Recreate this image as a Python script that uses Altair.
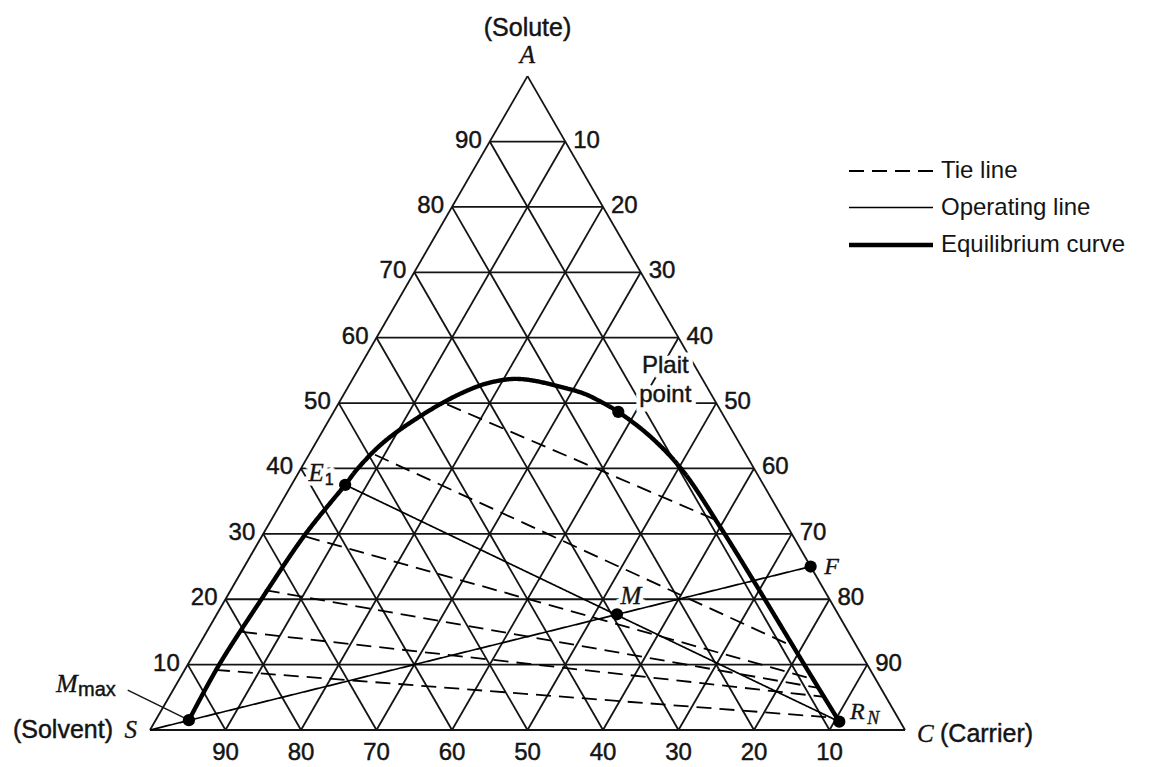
import math
import altair as alt
import pandas as pd

SQ = math.sqrt(3) / 2
SANS = "Liberation Sans"
SERIF = "Liberation Serif"
INK = "#141414"

# Compositions in mass %: A = solute, C = carrier, S = solvent = 100 - A - C

# Equilibrium (binodal) curve, solvent-rich end -> carrier-rich end
eq_A = [1.5, 9.95, 19.9, 29.9, 37.5, 40.1, 44.4, 50.1, 52.7, 53.45, 53.7, 53.45,
        52.23, 51.39, 50.02, 48.65, 44.9, 39.8, 31.1, 22.97, 20.0, 10.0, 1.27]
eq_C = [4.4, 4.17, 4.75, 5.6, 7.1, 7.55, 9.15, 13.8, 17.4, 19.6, 21.5, 24.0,
        29.11, 31.92, 34.99, 37.7, 43.8, 50.56, 59.95, 68.38, 71.43, 81.66, 90.66]

# Tie lines: extract end (left branch) -> raffinate end (right branch)
tie_ext_A = [49.8, 42.1, 29.6, 21.4, 15.0, 9.2]
tie_ext_C = [14.45, 8.75, 5.75, 4.5, 4.7, 4.0]
tie_raf_A = [32.2, 12.6, 7.7, 6.4, 5.05, 1.85]
tie_raf_C = [58.7, 79.2, 84.2, 85.5, 86.95, 90.05]

# Named compositions (A, C)
point_names = ["S", "Mmax", "E1", "Plait", "M", "F", "RN"]
point_A = [0.0, 1.5, 37.5, 48.65, 17.7, 25.0, 1.27]
point_C = [0.0, 4.4, 7.1, 37.7, 53.0, 75.0, 90.66]

# Operating lines between named compositions
op_from = ["S", "E1"]
op_to = ["F", "RN"]

grid_levels = [10, 20, 30, 40, 50, 60, 70, 80, 90]
solute_ticks = [10, 20, 30, 40, 50, 60, 70, 80, 90]
carrier_ticks = [10, 20, 30, 40, 50, 60, 70, 80, 90]
solvent_ticks = [90, 80, 70, 60, 50, 40, 30, 20, 10]

legend_kinds = ["Tie line", "Operating line", "Equilibrium curve"]

# Start of the leader line drawn to M_max (composition space, outside the triangle)
mmax_leader = (6.1, -6.0)

comp = {n: (a, c) for n, a, c in zip(point_names, point_A, point_C)}


def to_xy(a, c):
    return (c + a / 2.0) / 100.0, a / 100.0 * SQ


W, H = 1175, 767
xscale = alt.Scale(domain=[-150 / 755, (W - 150) / 755], nice=False, zero=False)
yscale = alt.Scale(domain=[-37 / 755, 730 / 755], nice=False, zero=False)


def enc_xy(extra=None):
    e = dict(x=alt.X("x:Q", scale=xscale, axis=None),
             y=alt.Y("y:Q", scale=yscale, axis=None))
    if extra:
        e.update(extra)
    return e


def seg(p, q):
    x1, y1 = to_xy(*p)
    x2, y2 = to_xy(*q)
    return {"x": x1, "y": y1, "x2": x2, "y2": y2}


# ---- triangle grid ----
grid_rows = []
for k in grid_levels:
    grid_rows.append(seg((k, 0), (k, 100 - k)))          # constant solute
    grid_rows.append(seg((0, k), (100 - k, k)))          # constant carrier
    grid_rows.append(seg((0, 100 - k), (100 - k, 0)))    # constant solvent
grid_rows += [seg((0, 0), (0, 100)), seg((0, 100), (100, 0)), seg((100, 0), (0, 0))]
grid = alt.Chart(pd.DataFrame(grid_rows)).mark_rule(
    color=INK, strokeWidth=1.8).encode(
    **enc_xy({"x2": "x2:Q", "y2": "y2:Q"}))


# ---- tick labels ----
def tick_layer(vals, comps, **mk):
    rows = []
    for v, (a, c) in zip(vals, comps):
        x, y = to_xy(a, c)
        rows.append({"x": x, "y": y, "t": str(v)})
    return alt.Chart(pd.DataFrame(rows)).mark_text(
        font=SANS, fontSize=24, color=INK, stroke=INK, strokeWidth=0.45,
        baseline="middle", **mk).encode(**enc_xy({"text": "t:N"}))


left_lab = tick_layer(solute_ticks, [(k, 0) for k in solute_ticks], align="right", dx=-8, dy=-1)
right_lab = tick_layer(carrier_ticks, [(100 - k, k) for k in carrier_ticks], align="left", dx=8, dy=-1)
bottom_lab = tick_layer(solvent_ticks, [(0, 100 - k) for k in solvent_ticks], align="center", dy=23)

# ---- curve, tie lines, operating lines ----
line_rows = []
for i, (a, c) in enumerate(zip(eq_A, eq_C)):
    x, y = to_xy(a, c)
    line_rows.append({"id": "eq", "seq": i, "kind": "Equilibrium curve", "x": x, "y": y})
for j in range(len(tie_ext_A)):
    for s, (a, c) in enumerate([(tie_ext_A[j], tie_ext_C[j]), (tie_raf_A[j], tie_raf_C[j])]):
        x, y = to_xy(a, c)
        line_rows.append({"id": f"tie{j}", "seq": s, "kind": "Tie line", "x": x, "y": y})
for j, (p, q) in enumerate(zip(op_from, op_to)):
    for s, name in enumerate([p, q]):
        x, y = to_xy(*comp[name])
        line_rows.append({"id": f"op{j}", "seq": s, "kind": "Operating line", "x": x, "y": y})

legend = alt.Legend(orient="none", legendX=878, legendY=159, title=None,
                    symbolType="M-4,0H4", symbolSize=441, symbolStrokeColor="black",
                    symbolFillColor="transparent",
                    labelFont=SANS, labelFontSize=24, labelColor=INK, labelOffset=37,
                    labelLimit=400, rowPadding=12.5, padding=0)
lines = alt.Chart(pd.DataFrame(line_rows)).mark_line(
    color="black", interpolate="catmull-rom").encode(
    **enc_xy({
        "detail": "id:N",
        "order": "seq:Q",
        "strokeDash": alt.StrokeDash("kind:O", sort=legend_kinds,
                                     scale=alt.Scale(type="ordinal", domain=legend_kinds,
                                                     range=[[15, 8], [1, 0], [1, 0]]),
                                     legend=legend),
        "strokeWidth": alt.StrokeWidth("kind:O", sort=legend_kinds,
                                       scale=alt.Scale(type="ordinal", domain=legend_kinds,
                                                       range=[1.8, 1.7, 4.4]),
                                       legend=legend),
    }))

# leader line to M_max
lx, ly = to_xy(*mmax_leader)
mx, my = to_xy(*comp["Mmax"])
leader = alt.Chart(pd.DataFrame([{"x": lx, "y": ly, "x2": mx, "y2": my}])).mark_rule(
    color=INK, strokeWidth=1.5).encode(**enc_xy({"x2": "x2:Q", "y2": "y2:Q"}))

# ---- points ----
dot_names = ["Mmax", "E1", "Plait", "M", "F", "RN"]
dot_rows = []
for n in dot_names:
    x, y = to_xy(*comp[n])
    dot_rows.append({"x": x, "y": y, "name": n})
dots = alt.Chart(pd.DataFrame(dot_rows)).mark_point(
    filled=True, color="black", size=150, opacity=1, shape="circle").encode(**enc_xy())


# ---- labels ----
def label(text, at, dx=0, dy=0, size=24, font=SANS, style="normal",
          align="center", halo=False):
    x, y = to_xy(*at)
    base = alt.Chart(pd.DataFrame([{"x": x, "y": y, "t": text}]))
    kw = dict(font=font, fontSize=size, fontStyle=style, align=align,
              baseline="middle", dx=dx, dy=dy)
    layers = []
    if halo:
        layers.append(base.mark_text(color="white", stroke="white",
                                     strokeWidth=9, **kw).encode(**enc_xy({"text": "t:N"})))
    weight = 0.45 if font == SANS else 0.35
    layers.append(base.mark_text(color=INK, stroke=INK, strokeWidth=weight, **kw)
                  .encode(**enc_xy({"text": "t:N"})))
    return layers


A_v, S_v, C_v = (100, 0), (0, 0), (0, 100)
halos, texts = [], []


def add(layers):
    if len(layers) == 2:
        halos.append(layers[0])
        texts.append(layers[1])
    else:
        texts.append(layers[0])


add(label("(Solute)", A_v, dy=-48, size=25))
add(label("A", A_v, dy=-21, size=25, font=SERIF, style="italic"))
add(label("S", S_v, dx=-13, dy=0, size=25, font=SERIF, style="italic", align="right"))
add(label("(Solvent)", S_v, dx=-37, dy=0, size=25, align="right"))
add(label("C", C_v, dx=12, dy=4, size=25, font=SERIF, style="italic", align="left"))
add(label("(Carrier)", C_v, dx=35, dy=4, size=25, align="left"))
add(label("M", comp["Mmax"], dx=-122, dy=-36, size=26, font=SERIF, style="italic"))
add(label("max", comp["Mmax"], dx=-92, dy=-30, size=20))
add(label("E", comp["E1"], dx=-29, dy=-12, size=25, font=SERIF, style="italic", halo=True))
add(label("1", comp["E1"], dx=-16, dy=-5, size=16, halo=True))
add(label("Plait", comp["Plait"], dx=47, dy=-46, size=24, halo=True))
add(label("point", comp["Plait"], dx=47, dy=-17, size=24, halo=True))
add(label("M", comp["M"], dx=14, dy=-18, size=25, font=SERIF, style="italic", halo=True))
add(label("F", comp["F"], dx=21, dy=0, size=24, font=SERIF, style="italic"))
add(label("R", comp["RN"], dx=18, dy=-10, size=24, font=SERIF, style="italic"))
add(label("N", comp["RN"], dx=34, dy=-3, size=18, font=SERIF, style="italic"))

chart = alt.layer(
    grid, *halos, lines, leader, dots, left_lab, right_lab, bottom_lab, *texts
).properties(
    width=W, height=H, padding=0, autosize=alt.AutoSizeParams(type="none"),
    background="white"
).configure_view(stroke=None)

chart.save("out.html", embed_options={"renderer": "svg", "actions": False})
